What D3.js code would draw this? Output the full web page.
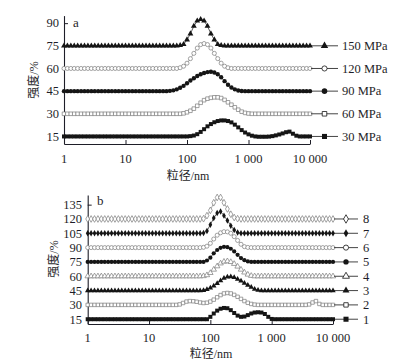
<!DOCTYPE html>
<html>
<head>
<meta charset="utf-8">
<script src="https://cdn.jsdelivr.net/npm/d3@7"></script>
<style>
  body { margin: 0; background: #fff; }
  svg { display: block; }
</style>
</head>
<body>
<div id="chart"></div>
<script>
// particle size grid (nm), shared by every curve
const sizes = [
  1, 1.136, 1.292, 1.468, 1.668, 1.896, 2.154, 2.448, 2.783, 3.162, 3.594, 4.084, 4.642, 5.275, 5.995, 6.813, 7.743, 8.799,
  10, 11.36, 12.92, 14.68, 16.68, 18.96, 21.54, 24.48, 27.83, 31.62, 35.94, 40.84, 46.42, 52.75, 59.95, 68.13, 77.43, 87.99,
  100, 113.6, 129.2, 146.8, 166.8, 189.6, 215.4, 244.8, 278.3, 316.2, 359.4, 408.4, 464.2, 527.5, 599.5, 681.3, 774.3, 879.9,
  1000, 1136, 1292, 1468, 1668, 1896, 2154, 2448, 2783, 3162, 3594, 4084, 4642, 5275, 5995, 6813, 7743, 8799,
  10000
];

const xTicks = [1, 10, 100, 1000, 10000];
const xTickLabels = ['1', '10', '100', '1 000', '10 000'];
const aTicks = [15, 30, 45, 60, 75, 90];
const bTicks = [15, 30, 45, 60, 75, 90, 105, 120, 135];

// panel a: pressure series (offset curves)
const aNames = ['150 MPa', '120 MPa', '90 MPa', '60 MPa', '30 MPa'];
const a150 = [
  75, 75, 75, 75, 75, 75, 75, 75, 75, 75, 75, 75, 75, 75, 75, 75, 75, 75,
  75, 75, 75, 75, 75, 75, 75, 75, 75, 75, 75, 75, 75, 75, 75, 75, 75.3, 76,
  79, 83, 88, 91.5, 92.5, 91.5, 88, 83, 79, 76, 75.3, 75, 75, 75, 75, 75, 75, 75,
  75, 75, 75, 75, 75, 75, 75, 75, 75, 75, 75, 75, 75, 75, 75, 75, 75, 75,
  75
];
const a120 = [
  60, 60, 60, 60, 60, 60, 60, 60, 60, 60, 60, 60, 60, 60, 60, 60, 60, 60,
  60, 60, 60, 60, 60, 60, 60, 60, 60, 60, 60, 60, 60, 60, 60, 60, 60.5, 61.5,
  63.5, 66.5, 70, 73.5, 75.8, 76.5, 75.8, 73.5, 70, 66.5, 63.5, 61.5, 60.5, 60, 60, 60, 60, 60,
  60, 60, 60, 60, 60, 60, 60, 60, 60, 60, 60, 60, 60, 60, 60, 60, 60, 60,
  60
];
const a90 = [
  45, 45, 45, 45, 45, 45, 45, 45, 45, 45, 45, 45, 45, 45, 45, 45, 45, 45,
  45, 45, 45, 45, 45, 45, 45, 45, 45, 45, 45, 45, 45, 45.2, 45.5, 46.2, 47.2, 48.5,
  50.2, 52, 53.5, 55, 56.2, 57, 57.6, 57.8, 57.3, 56.2, 54.2, 51.6, 49.2, 47.4, 46.2, 45.4, 45.1, 45,
  45, 45, 45, 45, 45, 45, 45, 45, 45, 45, 45, 45, 45, 45, 45, 45, 45, 45,
  45
];
const a60 = [
  30, 30, 30, 30, 30, 30, 30, 30, 30, 30, 30, 30, 30, 30, 30, 30, 30, 30,
  30, 30, 30, 30, 30, 30, 30, 30, 30, 30, 30, 30, 30, 30, 30, 30, 30, 30.3,
  31, 32, 33.4, 35.3, 37.3, 39, 40, 40.6, 40.9, 40.9, 40.4, 39.2, 37.6, 36, 34.3, 32.7, 31.4, 30.6,
  30.2, 30, 30, 30, 30, 30, 30, 30, 30, 30, 30, 30, 30, 30, 30, 30, 30, 30,
  30
];
const a30 = [
  15, 15, 15, 15, 15, 15, 15, 15, 15, 15, 15, 15, 15, 15, 15, 15, 15, 15,
  15, 15, 15, 15, 15, 15, 15, 15, 15, 15, 15, 15, 15, 15, 15, 15, 15, 15,
  15, 15.2, 15.6, 16.5, 18, 19.8, 21.7, 23.2, 24.4, 25.2, 25.6, 25.6, 25.2, 24.3, 22.8, 21, 19.2, 17.6,
  16.4, 15.5, 15, 14.8, 14.8, 14.8, 14.9, 15.2, 15.7, 16.3, 17, 17.8, 18.2, 16.8, 15.5, 15, 15, 15,
  15
];

// panel b: samples 8..1 (offset curves)
const bNames = ['8', '7', '6', '5', '4', '3', '2', '1'];
const b8 = [
  120, 120, 120, 120, 120, 120, 120, 120, 120, 120, 120, 120, 120, 120, 120, 120, 120, 120,
  120, 120, 120, 120, 120, 120, 120, 120, 120, 120, 120, 120, 120, 120, 120, 120, 120.3, 123.5,
  129, 137, 142.5, 142.5, 137, 130.5, 125, 121.5, 120.3, 120, 120, 120, 120, 120, 120, 120, 120, 120,
  120, 120, 120, 120, 120, 120, 120, 120, 120, 120, 120, 120, 120, 120, 120, 120, 120, 120,
  120
];
const b7 = [
  105, 105, 105, 105, 105, 105, 105, 105, 105, 105, 105, 105, 105, 105, 105, 105, 105, 105,
  105, 105, 105, 105, 105, 105, 105, 105, 105, 105, 105, 105, 105, 105, 105, 105, 105.3, 107.5,
  114, 121, 126.2, 127.8, 123.5, 118.5, 113, 108.5, 105.8, 105, 105, 105, 105, 105, 105, 105, 105, 105,
  105, 105, 105, 105, 105, 105, 105, 105, 105, 105, 105, 105, 105, 105, 105, 105, 105, 105,
  105
];
const b6 = [
  90, 90, 90, 90, 90, 90, 90, 90, 90, 90, 90, 90, 90, 90, 90, 90, 90, 90,
  90, 90, 90, 90, 90, 90, 90, 90, 90, 90, 90, 90, 90, 90, 90, 90, 90.3, 91.5,
  94.5, 99, 103, 105.5, 106.7, 106.5, 105, 101.5, 97.5, 93.5, 91, 90.2, 90, 90, 90, 90, 90, 90,
  90, 90, 90, 90, 90, 90, 90, 90, 90, 90, 90, 90, 90, 90, 90, 90, 90, 90,
  90
];
const b5 = [
  75, 75, 75, 75, 75, 75, 75, 75, 75, 75, 75, 75, 75, 75, 75, 75, 75, 75,
  75, 75, 75, 75, 75, 75, 75, 75, 75, 75, 75, 75, 75, 75, 75, 75, 75, 76.5,
  79.5, 84, 87.5, 89.8, 90.8, 90.5, 88.8, 86, 82.5, 79, 76.8, 75.5, 75, 75, 75, 75, 75, 75,
  75, 75, 75, 75, 75, 75, 75, 75, 75, 75, 75, 75, 75, 75, 75, 75, 75, 75,
  75
];
const b4 = [
  60, 60, 60, 60, 60, 60, 60, 60, 60, 60, 60, 60, 60, 60, 60, 60, 60, 60,
  60, 60, 60, 60, 60, 60, 60, 60, 60, 60, 60, 60, 60, 60, 60, 60, 60.2, 61.2,
  63.5, 67, 70.5, 73.5, 75.3, 75.8, 75, 73, 70.2, 67, 64, 61.8, 60.5, 60, 60, 60, 60, 60,
  60, 60, 60, 60, 60, 60, 60, 60, 60, 60, 60, 60, 60, 60, 60, 60, 60, 60,
  60
];
const b3 = [
  45, 45, 45, 45, 45, 45, 45, 45, 45, 45, 45, 45, 45, 45, 45, 45, 45, 45,
  45, 45, 45, 45, 45, 45, 45, 45, 45, 45, 45, 45, 45, 45, 45, 45, 45.3, 46.3,
  47.8, 49.8, 52.5, 55.5, 58, 59.3, 59.6, 58.8, 57, 55, 52.8, 50.8, 48.5, 46.5, 45.4, 45, 45, 45,
  45, 45, 45, 45, 45, 45, 45, 45, 45, 45, 45, 45, 45, 45, 45, 45, 45, 45,
  45
];
const b2 = [
  30, 30, 30, 30, 30, 30, 30, 30, 30, 30, 30, 30, 30, 30, 30, 30, 30, 30,
  30, 30, 30, 30, 30, 30, 30, 30, 30, 30.5, 32, 33.5, 34, 33.8, 33.3, 32.5, 32, 32.3,
  33.5, 35.5, 38, 40.3, 42, 42.5, 42, 40.5, 38.5, 36.3, 34, 32.2, 31, 30.3, 30, 30, 30, 30,
  30, 30, 30, 30, 30, 30, 30, 30, 30, 30, 30, 30.5, 32.5, 34, 31, 30, 30, 30,
  30
];
const b1 = [
  15, 15, 15, 15, 15, 15, 15, 15, 15, 15, 15, 15, 15, 15, 15, 15, 15, 15,
  15, 15, 15, 15, 15, 15, 15, 15, 15, 15, 15, 15, 15, 15, 15, 15, 15, 15,
  17.5, 21, 24, 26, 26.8, 26.5, 24.5, 21.5, 18.8, 17.5, 17.8, 19.3, 21, 22, 22.3, 22, 20.5, 17.5,
  15.3, 15, 15, 15, 15, 15, 15, 15, 15, 15, 15, 15, 15, 15, 15, 15, 15, 15,
  15
];

const W = 412, H = 364;
const serif = '"Liberation Serif", "Times New Roman", "Noto Sans CJK SC", serif';
const ink = '#1e1e28';

// marker styles: shape + filled/open
const markA = [
  { shape: d3.symbolTriangle, filled: true, size: 15 },
  { shape: d3.symbolCircle, filled: false, size: 13 },
  { shape: d3.symbolCircle, filled: true, size: 15 },
  { shape: d3.symbolSquare, filled: false, size: 13 },
  { shape: d3.symbolSquare, filled: true, size: 16 }
];
const markB = [
  { shape: d3.symbolDiamond, filled: false, size: 13 },
  { shape: d3.symbolDiamond, filled: true, size: 12 },
  { shape: d3.symbolCircle, filled: false, size: 13 },
  { shape: d3.symbolCircle, filled: true, size: 14 },
  { shape: d3.symbolTriangle, filled: false, size: 13 },
  { shape: d3.symbolTriangle, filled: true, size: 13 },
  { shape: d3.symbolSquare, filled: false, size: 12 },
  { shape: d3.symbolSquare, filled: true, size: 16 }
];

const panels = [
  {
    letter: 'a', series: [a150, a120, a90, a60, a30], names: aNames, marks: markA, yTicks: aTicks,
    yDomain: [10, 95], left: 64, right: 310, top: 15.6, bottom: 144,
    letterPos: [73, 27], yTitlePos: [34, 80], xTitlePos: [188, 180], tickLabelY: 163, yLabelX: 59,
    legend: { x0: 311, x1: 338, xt: 342 }
  },
  {
    letter: 'b', series: [b8, b7, b6, b5, b4, b3, b2, b1], names: bNames, marks: markB, yTicks: bTicks,
    yDomain: [10, 145], left: 87.7, right: 333, top: 195.1, bottom: 324,
    letterPos: [97, 205], yTitlePos: [54, 259], xTitlePos: [211, 358], tickLabelY: 342, yLabelX: 82,
    legend: { x0: 334, x1: 358, xt: 363 }
  }
];

const svg = d3.select('#chart').append('svg')
  .attr('width', W)
  .attr('height', H)
  .style('font-family', serif);

panels.forEach(p => {
  const x = d3.scaleLog().domain([1, 10000]).range([p.left, p.right]);
  const y = d3.scaleLinear().domain(p.yDomain).range([p.bottom, p.top]);
  const g = svg.append('g');

  // axes with inward ticks
  const xAxis = g.append('g')
    .attr('transform', `translate(0,${p.bottom})`)
    .call(d3.axisTop(x).tickValues(xTicks).tickSize(4).tickSizeOuter(0).tickFormat(''));
  xAxis.select('.domain').attr('stroke', ink).attr('stroke-width', 1.1);
  xAxis.selectAll('.tick line').attr('stroke', ink);

  const yAxis = g.append('g')
    .attr('transform', `translate(${p.left},0)`)
    .call(d3.axisRight(y).tickValues(p.yTicks).tickSize(4).tickSizeOuter(0).tickFormat(''));
  yAxis.select('.domain').attr('stroke', ink).attr('stroke-width', 1.1);
  yAxis.selectAll('.tick line').attr('stroke', ink);

  // tick labels
  g.selectAll('.xlab').data(xTicks).enter().append('text')
    .attr('x', d => x(d))
    .attr('y', p.tickLabelY)
    .attr('text-anchor', 'middle')
    .style('font-size', '12.5px')
    .style('fill', ink)
    .text((d, i) => xTickLabels[i]);

  g.selectAll('.ylab').data(p.yTicks).enter().append('text')
    .attr('x', p.yLabelX)
    .attr('y', d => y(d) + 4.3)
    .attr('text-anchor', 'end')
    .style('font-size', '12.5px')
    .style('fill', ink)
    .text(d => d);

  // titles
  g.append('text')
    .attr('transform', `translate(${p.yTitlePos[0]},${p.yTitlePos[1]}) rotate(-90)`)
    .attr('text-anchor', 'middle')
    .attr('dy', '0.35em')
    .style('font-size', '12px')
    .style('fill', ink)
    .text('强度/%');

  g.append('text')
    .attr('x', p.xTitlePos[0])
    .attr('y', p.xTitlePos[1])
    .attr('text-anchor', 'middle')
    .style('font-size', '12px')
    .style('fill', ink)
    .text('粒径/nm');

  g.append('text')
    .attr('x', p.letterPos[0])
    .attr('y', p.letterPos[1])
    .style('font-size', '13px')
    .style('fill', ink)
    .text(p.letter);

  const line = d3.line()
    .x((d, i) => x(sizes[i]))
    .y(d => y(d));

  p.series.forEach((vals, k) => {
    const m = p.marks[k];
    const col = m.filled ? '#151515' : '#8a8a8a';
    g.append('path')
      .datum(vals)
      .attr('d', line)
      .attr('fill', 'none')
      .attr('stroke', col)
      .attr('stroke-width', 0.7);

    const sym = d3.symbol().type(m.shape).size(m.size);
    g.selectAll(null).data(vals).enter().append('path')
      .attr('transform', (d, i) => `translate(${x(sizes[i])},${y(d)})`)
      .attr('d', sym)
      .attr('fill', m.filled ? '#151515' : '#fff')
      .attr('stroke', m.filled ? 'none' : '#7a7a7a')
      .attr('stroke-width', 0.7);

    // legend entry at the series baseline
    const ly = y(vals[vals.length - 1]);
    g.append('line')
      .attr('x1', p.legend.x0).attr('x2', p.legend.x1)
      .attr('y1', ly).attr('y2', ly)
      .attr('stroke', '#151515')
      .attr('stroke-width', 0.8);
    g.append('path')
      .attr('transform', `translate(${(p.legend.x0 + p.legend.x1) / 2},${ly})`)
      .attr('d', d3.symbol().type(m.shape).size(m.size * 1.6))
      .attr('fill', m.filled ? '#151515' : '#fff')
      .attr('stroke', m.filled ? 'none' : '#151515')
      .attr('stroke-width', 0.8);
    g.append('text')
      .attr('x', p.legend.xt)
      .attr('y', ly + 4.3)
      .style('font-size', '12.5px')
      .style('fill', ink)
      .text(p.names[k]);
  });
});
</script>
</body>
</html>
